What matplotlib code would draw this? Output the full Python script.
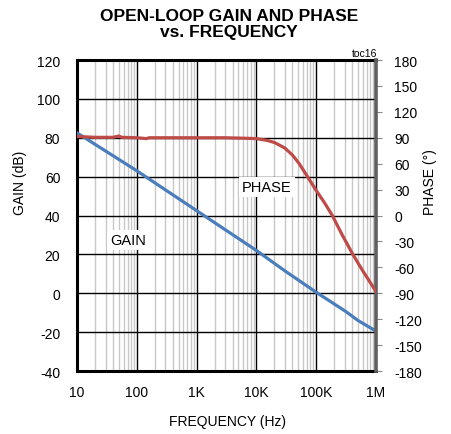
import matplotlib
matplotlib.use("Agg")
import matplotlib.pyplot as plt
import numpy as np

plt.rcParams['font.family'] = ['Liberation Sans', 'DejaVu Sans']
plt.rcParams['axes.unicode_minus'] = False

# Data
gain_freq = [10, 100, 1e3, 1e4, 3e4, 1e5, 2e5, 3.16e5, 5e5, 1e6]
gain_db = [82.5, 63.0, 42.5, 22.0, 11.5, 0.5, -5.5, -9.5, -14.0, -19.5]

phase_freq = [10, 20, 40, 50, 56, 100, 145, 160, 1e3, 3e3, 6e3, 1e4, 1.5e4, 2e4,
              2.5e4, 3e4, 4e4, 5.2e4, 7e4, 1e5, 1.4e5, 1.86e5, 2.7e5, 4.1e5, 6e5, 1e6]
phase_deg = [91.5, 90.5, 90.5, 92.0, 90.5, 90.0, 89.0, 90.0, 90.0, 90.0, 89.5, 89.0,
             87.0, 84.5, 81.0, 78.0, 70.0, 60.0, 46.0, 29.0, 14.0, 0.0, -22.0,
             -45.0, -64.0, -88.0]

x_ticks = [10, 100, 1e3, 1e4, 1e5, 1e6]
x_labels = ['10', '100', '1K', '10K', '100K', '1M']
gain_ticks = list(range(-40, 121, 20))
phase_ticks = list(range(-180, 181, 30))

title = "OPEN-LOOP GAIN AND PHASE\nvs. FREQUENCY"

fig = plt.figure(figsize=(4.51, 4.35), dpi=100)
ax = fig.add_axes([77/451, 1-372/435, (376-77)/451, (372-61)/435])

ax.set_xscale('log')
ax.set_xlim(10, 1e6)
ax.set_ylim(-40, 120)
ax.set_xticks(x_ticks)
ax.set_xticklabels(x_labels)
ax.set_yticks(gain_ticks)
ax.xaxis.set_minor_locator(matplotlib.ticker.LogLocator(base=10, subs=np.arange(2, 10)))
ax.xaxis.set_minor_formatter(matplotlib.ticker.NullFormatter())
ax.grid(which='minor', axis='x', color='#c8c8c8', lw=1.0)
ax.grid(which='major', axis='both', color='black', lw=1.0)
ax.set_axisbelow(True)
ax.tick_params(axis='both', which='both', length=0, labelsize=10, colors='black')
ax.tick_params(axis='x', pad=10)
ax.tick_params(axis='y', pad=12)

for s in ['left', 'bottom', 'top']:
    ax.spines[s].set_linewidth(2.2)
    ax.spines[s].set_color('black')
ax.spines['right'].set_visible(False)

ax.plot(gain_freq, gain_db, color='#4a7ebb', lw=2.3, zorder=3)

ax2 = ax.twinx()
ax2.set_ylim(-180, 180)
ax2.set_yticks(phase_ticks)
ax2.tick_params(axis='y', length=4, width=0.8, color='#888888', labelsize=10, pad=9)
ax2.spines['right'].set_linewidth(2.6)
ax2.spines['right'].set_color('#606060')
for s in ['left', 'bottom', 'top']:
    ax2.spines[s].set_visible(False)
ax2.plot(phase_freq, phase_deg, color='#be4b48', lw=2.3, zorder=3)

fig.text(228/451, 1-422/435, 'FREQUENCY (Hz)', fontsize=10, ha='center', va='center')
fig.text(20/451, 1-183/435, 'GAIN (dB)', fontsize=10, ha='center', va='center',
         rotation=90)
fig.text(430/451, 1-182/435, 'PHASE (°)', fontsize=10, ha='center', va='center',
         rotation=90)

fig.text(128/451, 1-241/435, 'GAIN', fontsize=10.5, ha='center', va='center',
         bbox=dict(facecolor='white', edgecolor='none', pad=2), zorder=4)
fig.text(267/451, 1-188/435, 'PHASE', fontsize=10.5, ha='center', va='center',
         bbox=dict(facecolor='white', edgecolor='none', pad=2), zorder=4)
fig.text(377/451, 1-54/435, 'toc16', fontsize=7.5, ha='right', va='center')

fig.text(229/451, 1-24.5/435, title, fontsize=12.5, fontweight='bold', ha='center',
         va='center', linespacing=1.15)

fig.savefig('out.png', dpi=100)
